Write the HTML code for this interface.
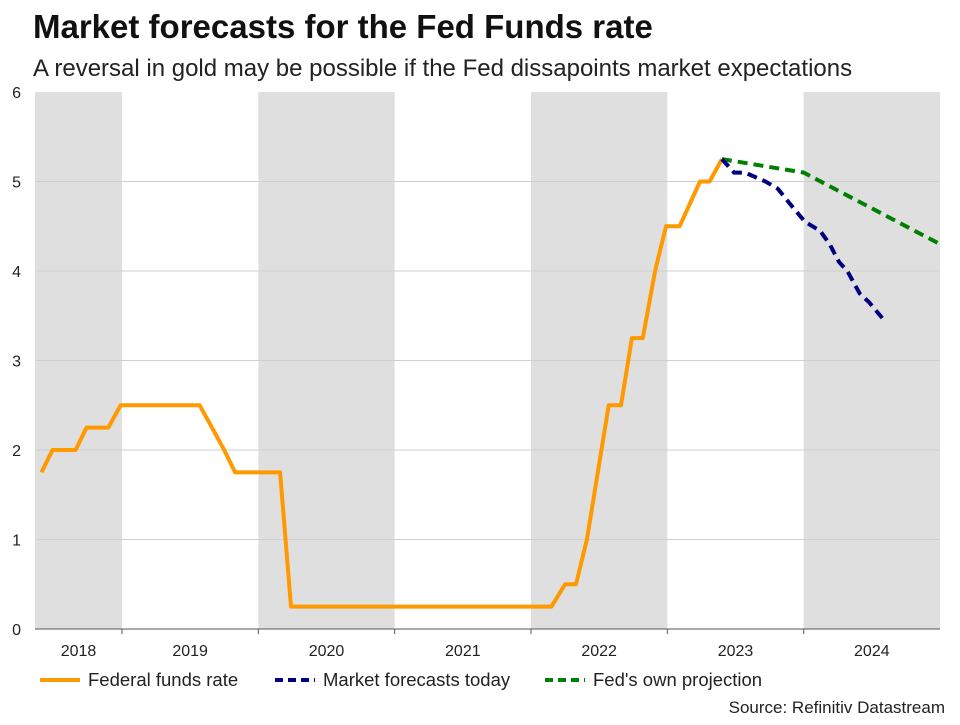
<!DOCTYPE html>
<html><head><meta charset="utf-8"><style>
body{margin:0;background:#fff;font-family:"Liberation Sans",Arial,sans-serif}
svg text{font-family:"Liberation Sans",Arial,sans-serif}
</style></head><body>
<svg id="c" width="960" height="720" xmlns="http://www.w3.org/2000/svg">
<text x="33" y="38" font-size="33" font-weight="bold" fill="#111">Market forecasts for the Fed Funds rate</text>
<text x="33" y="76" font-size="24" fill="#222">A reversal in gold may be possible if the Fed dissapoints market expectations</text>
<g id="bands"></g><g id="grid"></g><g id="axes"></g><g id="series"></g>
<g>
<line x1="40" y1="680" x2="80" y2="680" stroke="#FF9900" stroke-width="4"/>
<text x="88" y="686" font-size="18.5" fill="#222">Federal funds rate</text>
<line x1="275" y1="680" x2="315" y2="680" stroke="#000080" stroke-width="4" stroke-dasharray="8,5"/>
<text x="323" y="686" font-size="18.5" fill="#222">Market forecasts today</text>
<line x1="545" y1="680" x2="585" y2="680" stroke="#008000" stroke-width="4" stroke-dasharray="8,5"/>
<text x="593" y="686" font-size="18.5" fill="#222">Fed's own projection</text>
</g>
<text x="945" y="713" font-size="17" fill="#222" text-anchor="end">Source: Refinitiv Datastream</text>
</svg>
<script>
const yTicks=[0,1,2,3,4,5,6];
const years=[2018,2019,2020,2021,2022,2023,2024];
const fedX=[2018.41,2018.49,2018.66,2018.74,2018.90,2018.99,2019.57,2019.66,2019.75,2019.83,2020.16,2020.24,2022.15,2022.25,2022.33,2022.41,2022.49,2022.57,2022.66,2022.74,2022.82,2022.91,2022.99,2023.09,2023.24,2023.31,2023.40];
const fedY=[1.75,2,2,2.25,2.25,2.5,2.5,2.25,2,1.75,1.75,0.25,0.25,0.5,0.5,1,1.75,2.5,2.5,3.25,3.25,4,4.5,4.5,5,5,5.25];
const mktX=[2023.40,2023.49,2023.57,2023.72,2023.81,2023.90,2024.01,2024.12,2024.19,2024.26,2024.32,2024.41,2024.48,2024.59];
const mktY=[5.25,5.1,5.1,5.0,4.92,4.75,4.55,4.45,4.3,4.1,4.0,3.75,3.65,3.45];
const projX=[2023.40,2024.0,2025.0];
const projY=[5.25,5.1,4.3];
const X0=2018.362,X1=2025.0,L=35,R=940,T=92,B=629;
const sx=v=>L+(v-X0)/(X1-X0)*(R-L);
const sy=v=>B-(v-0)/6*(B-T);
const NS="http://www.w3.org/2000/svg";
function mk(tag,attrs,parent){const e=document.createElementNS(NS,tag);for(const k in attrs)e.setAttribute(k,attrs[k]);document.getElementById(parent).appendChild(e);return e;}
years.forEach((y,i)=>{
 const a=Math.max(X0,y),b=Math.min(X1,y+1);
 if(i%2===0){const r=mk('rect',{x:sx(a),y:T,width:sx(b)-sx(a),height:B-T,fill:'#dfdfdf'},'bands');
 
 }
 const t=mk('text',{x:(sx(a)+sx(b))/2,y:656,'font-size':16,fill:'#222','text-anchor':'middle'},'axes');t.textContent=y;
 
 
 if(y>X0){const tk=mk('line',{x1:sx(y),x2:sx(y),y1:B,y2:B+5,stroke:'#555'},'axes');
 
 }
});
yTicks.forEach(v=>{
 if(v>0&&v<6){const g=mk('line',{x1:L,x2:R,y1:sy(v),y2:sy(v),stroke:'#cfcfcf','stroke-width':1},'grid');
 
 }
 const t=mk('text',{x:21,y:sy(v)+6,'font-size':16,fill:'#222','text-anchor':'end'},'axes');t.textContent=v;
 
 
});
const ax=mk('line',{x1:L,x2:R,y1:B,y2:B,stroke:'#555'},'axes');


function path(xs,ys){return xs.map((x,i)=>(i?'L':'M')+sx(x).toFixed(1)+','+sy(ys[i]).toFixed(1)).join('');}
const p1=mk('path',{d:path(fedX,fedY),fill:'none',stroke:'#FF9900','stroke-width':4,'stroke-linejoin':'round'},'series');


const p3=mk('path',{d:path(projX,projY),fill:'none',stroke:'#008000','stroke-width':4,'stroke-dasharray':'10,6'},'series');


const p2=mk('path',{d:path(mktX,mktY),fill:'none',stroke:'#000080','stroke-width':4,'stroke-dasharray':'10,6'},'series');


</script>
</body></html>
